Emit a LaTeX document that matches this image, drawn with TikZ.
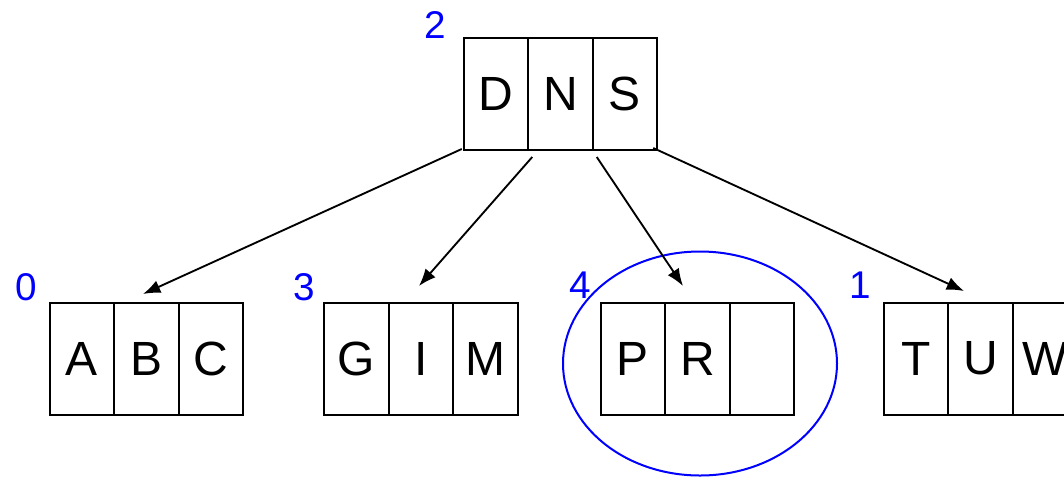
\documentclass[tikz,border=0pt]{standalone}
\usepackage{fontspec}
\setmainfont{Liberation Sans}
\usetikzlibrary{arrows.meta,shapes.geometric}
\begin{document}
\begin{tikzpicture}[x=0.75pt,y=-0.75pt,
  cell/.style={draw=black,line width=1.5pt,minimum width=64.5*0.75pt,minimum height=112*0.75pt,inner sep=0pt,font=\fontsize{36}{40}\selectfont,anchor=center},
  num/.style={text=blue,font=\fontsize{29}{32}\selectfont,inner sep=0pt},
  link/.style={line width=1.4pt,-{Latex[length=13pt,width=10pt]}},
  ring/.style={draw=blue,line width=1.5pt}]
\useasboundingbox (0,0) rectangle (1064,476);
\clip (0,0) rectangle (1064,476);
% root
\node[cell] (r1) at (496,94) {D};
\node[cell] (r2) at (560.5,94) {N};
\node[cell] (r3) at (625,94) {S};
% leaves
\node[cell] (a1) at (82,358.5) {A};
\node[cell] (a2) at (146.5,358.5) {B};
\node[cell] (a3) at (211,358.5) {C};
\node[cell] (g1) at (356.5,358.5) {G};
\node[cell] (g2) at (421,358.5) {I};
\node[cell] (g3) at (485.5,358.5) {M};
\node[cell] (p1) at (633,358.5) {P};
\node[cell] (p2) at (697.5,358.5) {R};
\node[cell] (p3) at (762,358.5) {};
\node[cell] (t1) at (916,358.5) {T};
\node[cell] (t2) at (980.5,358.5) {U};
\node[cell] (t3) at (1045,358.5) {W};
% numbers
\node[num] (n2) at (435,25) {2};
\node[num] (n0) at (26,287) {0};
\node[num] (n3) at (304,287) {3};
\node[num] (n4) at (580,285) {4};
\node[num] (n1) at (860,285) {1};
% highlight
\node[ring,ellipse,minimum width=274*0.75pt,minimum height=224*0.75pt,inner sep=0pt] (hl) at (700,363.5) {};
% arrow targets
\coordinate (ta) at (143,294);
\coordinate (tg) at (419,286);
\coordinate (tp) at (683,286);
\coordinate (tt) at (964,291);
\draw[link] ([shift={(-1,-2)}]r1.south west) -- (ta);
\draw[link] ([shift={(3,6)}]r1.south east) -- (tg);
\draw[link] ([shift={(3,6)}]r2.south east) -- (tp);
\draw[link] ([shift={(-5,-3)}]r3.south east) -- (tt);
\end{tikzpicture}
\end{document}
